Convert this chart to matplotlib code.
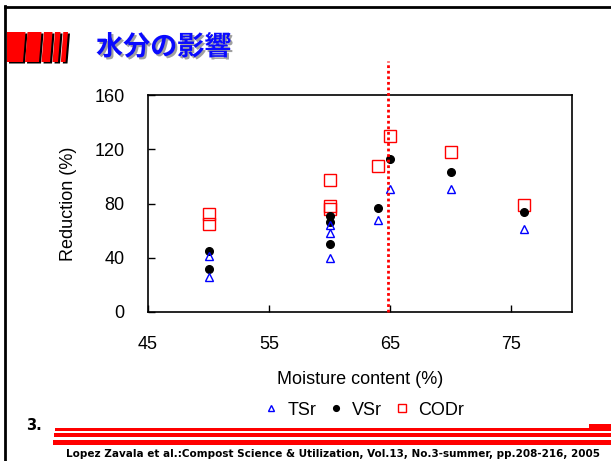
import matplotlib.pyplot as plt
from matplotlib.patches import Polygon, Rectangle
from matplotlib.lines import Line2D
import matplotlib.patheffects as pe

# moisture content (%) and reductions (%)
moisture = [50, 50, 60, 60, 60, 64, 65, 70, 76]
tsr = [41, 26, 64, 58, 40, 68, 91, 91, 61]
vsr = [45, 32, 71, 66, 50, 77, 113, 103, 74]
codr = [72, 65, 97, 78, 76, 108, 130, 118, 79]
optimum = 64.8

x_ticks = [45, 55, 65, 75]
y_ticks = [0, 40, 80, 120, 160]

W, H = 611, 461
fig = plt.figure(figsize=(W / 100, H / 100), dpi=100)


def fx(px):
    return px / W


def fy(py):
    return 1 - py / H


# ---- slide frame ----
fig.add_artist(Line2D([fx(5), fx(611)], [fy(7), fy(7)], color='black', lw=2.0))
fig.add_artist(Line2D([fx(5.3), fx(5.3)], [fy(6), fy(461)], color='black', lw=2.0))

# red slanted blocks next to the heading
blocks = [(7, 25.5), (27.5, 41.5), (44, 52.5), (55, 60.5), (63.3, 68)]
top, bot, slant = 32, 62, 2.5
for i, (a, b) in enumerate(blocks):
    la = a if i == 0 else a - slant
    shadow = Polygon([(fx(la + 2), fy(bot + 1.5)), (fx(b - slant + 2), fy(bot + 1.5)),
                      (fx(b + 2), fy(top + 1.5)), (fx(a + 2), fy(top + 1.5))],
                     closed=True, transform=fig.transFigure, facecolor='black', edgecolor='none')
    fig.add_artist(shadow)
    block = Polygon([(fx(la), fy(bot)), (fx(b - slant), fy(bot)),
                     (fx(b), fy(top)), (fx(a), fy(top))],
                    closed=True, transform=fig.transFigure, facecolor='#ff0000', edgecolor='none')
    fig.add_artist(block)

fig.text(fx(96), fy(47), '水分の影響', family=['Noto Sans CJK JP', 'DejaVu Sans'],
         fontsize=19.5, fontweight='bold', color='#0a0aff', va='center', ha='left',
         path_effects=[pe.withSimplePatchShadow(offset=(1.5, -1.5), shadow_rgbFace='#a0a0a0', alpha=1)])

# ---- chart ----
ax = fig.add_axes([fx(148), fy(312), fx(572) - fx(148), fy(95) - fy(312)])
ax.plot(moisture, codr, linestyle='none', marker='s', markersize=8.5,
        markerfacecolor='none', markeredgecolor='#ff0000', markeredgewidth=1.0, label='CODr')
ax.plot(moisture, vsr, linestyle='none', marker='o', markersize=5.5,
        color='black', label='VSr')
ax.plot(moisture, tsr, linestyle='none', marker='^', markersize=5.5,
        markerfacecolor='none', markeredgecolor='#0000ff', markeredgewidth=1.0, label='TSr')

ax.plot([optimum, optimum], [0, 185], color='#ff0000', lw=2.0,
        linestyle=(0, (1, 1)), clip_on=False, zorder=5)

ax.set_xlim(45, 80)
ax.set_ylim(0, 160)
ax.set_xticks(x_ticks)
ax.set_yticks(y_ticks)
ax.tick_params(direction='in', length=5, width=1.0, labelsize=13, pad=17,
               top=False, right=False)
for lbl in ax.get_xticklabels() + ax.get_yticklabels():
    lbl.set_family('Liberation Sans')
for sp in ax.spines.values():
    sp.set_linewidth(1.2)

ax.set_xlabel('Moisture content (%)', family='Liberation Sans', fontsize=13, labelpad=13)
ax.set_ylabel('Reduction (%)', family='Liberation Sans', fontsize=13, labelpad=12)

handles, labels = ax.get_legend_handles_labels()
order = [2, 1, 0]
ax.legend([handles[i] for i in order], [labels[i] for i in order],
          loc='center', bbox_to_anchor=(fx(363), fy(410)), bbox_transform=fig.transFigure,
          ncol=3, frameon=False, markerscale=0.75, handlelength=1.0, handletextpad=0.4,
          columnspacing=0.6, prop={'family': 'Liberation Sans', 'size': 13})

# ---- footer ----
fig.text(fx(26), fy(425), '3.', family='DejaVu Sans', fontweight='bold', fontsize=10.5,
         ha='left', va='center')
stripes = [(55, 428.3, 2.5), (54, 432.7, 4.5), (52.5, 440.3, 4.2)]
for x0, y0, h in stripes:
    fig.add_artist(Rectangle((fx(x0), fy(y0 + h)), fx(W - x0), h / H,
                             transform=fig.transFigure, facecolor='#ff0000', edgecolor='none'))
fig.add_artist(Rectangle((fx(589), fy(428.3)), fx(22), 4 / H,
                         transform=fig.transFigure, facecolor='#ff0000', edgecolor='none'))

fig.text(fx(333), fy(453.5),
         'Lopez Zavala et al.:Compost Science & Utilization, Vol.13, No.3-summer, pp.208-216, 2005',
         family='DejaVu Sans', fontweight='bold', fontsize=7.45, ha='center', va='center')

fig.savefig('out.png', dpi=100)
